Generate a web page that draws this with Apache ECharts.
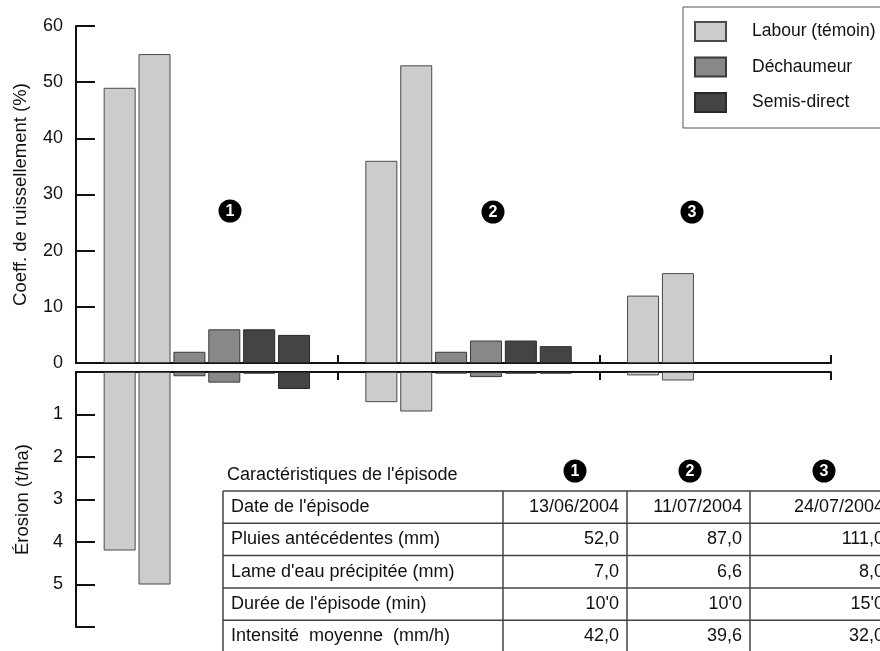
<!DOCTYPE html>
<html>
<head>
<meta charset="utf-8">
<script src="https://cdn.jsdelivr.net/npm/echarts@6/dist/echarts.min.js"></script>
<style>
  html, body { margin: 0; padding: 0; background: #fff; }
  #chart { width: 880px; height: 651px; }
</style>
</head>
<body>
<div id="chart"></div>
<script>
// episodes (x position = episode number)
const episodeX = [1, 2, 3]
const episodeLabels = ['1', '2', '3']

// runoff coefficient (%), two plots per tillage
const runoffLabourA = [49, 36, 12]
const runoffLabourB = [55, 53, 16]
const runoffDechA = [2, 2, null]
const runoffDechB = [6, 4, null]
const runoffSemisA = [6, 4, null]
const runoffSemisB = [5, 3, null]

// erosion (t/ha)
const erosionLabourA = [4.2, 0.71, 0.08]
const erosionLabourB = [5.0, 0.93, 0.2]
const erosionDechA = [0.1, 0.04, null]
const erosionDechB = [0.25, 0.12, null]
const erosionSemisA = [0.04, 0.04, null]
const erosionSemisB = [0.4, 0.04, null]

const erosionTickLabels = ['1', '2', '3', '4', '5']

// table
const tableTitle = "Caractéristiques de l'épisode"
const tableLabels = ["Date de l'épisode", 'Pluies antécédentes (mm)', "Lame d'eau précipitée (mm)", "Durée de l'épisode (min)", 'Intensité  moyenne  (mm/h)']
const tableEp1 = ['13/06/2004', '52,0', '7,0', "10'0", '42,0']
const tableEp2 = ['11/07/2004', '87,0', '6,6', "10'0", '39,6']
const tableEp3 = ['24/07/2004', '111,0', '8,0', "15'0", '32,0']

const FONT = '"Liberation Sans", Arial, sans-serif'
const names = ['Labour (témoin)', 'Déchaumeur', 'Semis-direct']
const fills = ['#cccccc', '#888888', '#444444']
const borders = ['#4a4a4a', '#3a3a3a', '#2a2a2a']

function barSeries(kind, values, axis) {
  return {
    type: 'bar',
    name: names[kind],
    xAxisIndex: axis,
    yAxisIndex: axis,
    barWidth: 32,
    barGap: '9%',
    itemStyle: { color: fills[kind], borderColor: borders[kind], borderWidth: 1 },
    data: episodeX.map((x, i) => [x, values[i]]).filter(d => d[1] != null),
  }
}

const axisLine = { lineStyle: { color: '#111', width: 2 } }

function xAxis(grid, pos) {
  return {
    type: 'value',
    gridIndex: grid,
    position: pos,
    min: 0.5,
    max: 3.385,
    axisLine: { show: true, onZero: false, lineStyle: { color: '#111', width: 2 } },
    axisTick: { show: true, inside: true, length: 8, lineStyle: { color: '#111', width: 2 }, customValues: [1.5, 2.5, 3.385] },
    axisLabel: { show: false },
    splitLine: { show: false },
  }
}

function badge(x, y, t) {
  return {
    type: 'group', x, y,
    children: [
      { type: 'circle', shape: { cx: 0, cy: 0, r: 11.5 }, style: { fill: '#000' } },
      { type: 'text', style: { text: t, x: 0, y: 1, align: 'center', verticalAlign: 'middle', textAlign: 'center', textVerticalAlign: 'middle', fill: '#fff', font: 'bold 16px ' + FONT } },
    ],
  }
}

function txt(x, y, t, align) {
  return { type: 'text', style: { text: t, x, y, align, verticalAlign: 'middle', textAlign: align, textVerticalAlign: 'middle', fill: '#111', font: '18px ' + FONT } }
}

function hline(x1, x2, y) {
  return { type: 'line', shape: { x1, y1: y, x2, y2: y }, style: { stroke: '#444', lineWidth: 1.5 } }
}
function vline(x, y1, y2) {
  return { type: 'line', shape: { x1: x, y1, x2: x, y2 }, style: { stroke: '#444', lineWidth: 1.5 } }
}

// table layout
const tLeft = 223, tTop = 491, rowH = 32.3
const colEdges = [223, 503, 627, 750, 892]
const tableGraphic = []
tableGraphic.push(txt(227, 475, tableTitle, 'left'))
for (let r = 0; r <= 5; r++) tableGraphic.push(hline(tLeft, 890, tTop + r * rowH))
colEdges.slice(0, 4).forEach(x => tableGraphic.push(vline(x, tTop, 660)))
const cols = [tableEp1, tableEp2, tableEp3]
tableLabels.forEach((lab, r) => {
  const cy = tTop + r * rowH + rowH / 2
  tableGraphic.push(txt(231, cy, lab, 'left'))
  cols.forEach((col, c) => tableGraphic.push(txt(colEdges[c + 2] - 8, cy, col[r], 'right')))
})
const headerBadges = [575, 690, 824].map((x, i) => badge(x, 471, episodeLabels[i]))
const plotBadges = [[230, 211], [493, 212], [692, 212]].map((p, i) => badge(p[0], p[1], episodeLabels[i]))

const chart = echarts.init(document.getElementById('chart'))
chart.setOption({
  animation: false,
  backgroundColor: '#fff',
  textStyle: { fontFamily: FONT },
  grid: [
    { left: 76, top: 26, right: 49, height: 337, outerBoundsMode: 'none' },
    { left: 76, top: 372, right: 49, height: 255, outerBoundsMode: 'none' },
  ],
  legend: {
    orient: 'vertical',
    left: 683,
    top: 7,
    padding: [14, 12, 15, 11],
    borderColor: '#555',
    borderWidth: 1,
    itemWidth: 31,
    itemHeight: 19,
    itemGap: 14.5,
    icon: 'rect',
    data: names,
    textStyle: { fontSize: 17.5, color: '#111', fontFamily: FONT, padding: [0, 0, 0, 21] },
  },
  xAxis: [xAxis(0, 'bottom'), xAxis(1, 'top')],
  yAxis: [
    {
      type: 'value', gridIndex: 0, min: 0, max: 60, interval: 10,
      name: 'Coeff. de ruissellement (%)', nameLocation: 'middle', nameGap: 46,
      nameTextStyle: { fontSize: 18.5, color: '#111' },
      axisLine: { show: true, ...axisLine },
      axisTick: { show: true, inside: true, length: 19, lineStyle: { color: '#111', width: 2 } },
      axisLabel: { fontSize: 18, color: '#111', margin: 13 },
      splitLine: { show: false },
    },
    {
      type: 'value', gridIndex: 1, min: 0, max: 6, interval: 1, inverse: true,
      name: 'Érosion (t/ha)', nameLocation: 'middle', nameGap: 44,
      nameTextStyle: { fontSize: 18.5, color: '#111' },
      axisLine: { show: true, ...axisLine },
      axisTick: { show: true, inside: true, length: 19, lineStyle: { color: '#111', width: 2 } },
      axisLabel: { fontSize: 18, color: '#111', margin: 13, formatter: v => erosionTickLabels[v - 1] || '' },
      splitLine: { show: false },
    },
  ],
  series: [
    barSeries(0, runoffLabourA, 0),
    barSeries(0, runoffLabourB, 0),
    barSeries(1, runoffDechA, 0),
    barSeries(1, runoffDechB, 0),
    barSeries(2, runoffSemisA, 0),
    barSeries(2, runoffSemisB, 0),
    barSeries(0, erosionLabourA, 1),
    barSeries(0, erosionLabourB, 1),
    barSeries(1, erosionDechA, 1),
    barSeries(1, erosionDechB, 1),
    barSeries(2, erosionSemisA, 1),
    barSeries(2, erosionSemisB, 1),
  ],
  graphic: [...plotBadges, ...headerBadges, ...tableGraphic],
})
</script>
</body>
</html>
